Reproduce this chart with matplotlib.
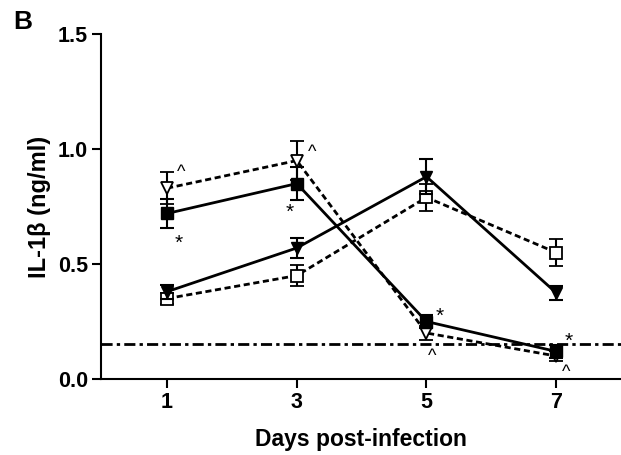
import matplotlib
matplotlib.use('Agg')
import matplotlib.pyplot as plt

plt.rcParams['font.family'] = ['Liberation Sans', 'DejaVu Sans']

days = [1, 3, 5, 7]

# filled square, solid
sq_fill = [0.72, 0.85, 0.25, 0.12]
sq_fill_err = [0.065, 0.07, 0.03, 0.03]
# open inverted triangle, dashed
tri_open = [0.83, 0.95, 0.20, 0.10]
tri_open_err = [0.07, 0.085, 0.03, 0.02]
# filled inverted triangle, solid
tri_fill = [0.38, 0.57, 0.88, 0.375]
tri_fill_err = [0.03, 0.045, 0.075, 0.03]
# open square, dashed
sq_open = [0.35, 0.45, 0.79, 0.55]
sq_open_err = [0.025, 0.045, 0.06, 0.06]

detection_limit = 0.152

caret_x = [1.22, 3.24, 5.09, 7.15]
caret_y = [0.917, 1.0, 0.117, 0.047]
star_x = [1.18, 2.89, 5.2, 7.19]
star_y = [0.61, 0.743, 0.29, 0.185]

fig = plt.figure(figsize=(6.21, 4.55), dpi=100)
ax = fig.add_axes([0.1626, 0.167, 0.8374, 0.758])

common = dict(color='black', lw=2, capsize=5, capthick=1.5, elinewidth=1.5, markersize=8)
dash = (0, (2.2, 1.3))
ax.errorbar(days, sq_open, yerr=sq_open_err, ls=dash, marker='s',
            mfc='white', mec='black', mew=1.3, zorder=3, **common)
ax.errorbar(days, tri_fill, yerr=tri_fill_err, ls='-', marker='v',
            mfc='black', mec='black', zorder=4, **common)
ax.errorbar(days, tri_open, yerr=tri_open_err, ls=dash, marker='v',
            mfc='white', mec='black', mew=1.3, zorder=3, **common)
ax.errorbar(days, sq_fill, yerr=sq_fill_err, ls='-', marker='s',
            mfc='black', mec='black', zorder=4, **common)

ax.axhline(detection_limit, color='black', lw=2, ls=(0, (4, 1.5, 1.2, 1.5)), zorder=2)

# significance marks: glyph sits near the top of the text box
for x, y in zip(caret_x, caret_y):
    ax.text(x, y + 0.02, '^', fontsize=13, ha='center', va='top')
for x, y in zip(star_x, star_y):
    ax.text(x, y + 0.022, '*', fontsize=15, ha='center', va='top')

ax.set_xlim(-0.02, 8.0)
ax.set_ylim(0, 1.5)
ax.set_xticks(days)
ax.set_yticks([0.0, 0.5, 1.0, 1.5])
ax.set_yticklabels(['0.0', '0.5', '1.0', '1.5'])
ax.spines['top'].set_visible(False)
ax.spines['right'].set_visible(False)
ax.spines['left'].set_linewidth(1.5)
ax.spines['bottom'].set_linewidth(1.5)
ax.tick_params(direction='out', length=6.5, width=1.5, labelsize=15.5, pad=3)
for lab in ax.get_xticklabels() + ax.get_yticklabels():
    lab.set_fontweight('bold')

ax.set_xlabel('Days post-infection', fontsize=16.5, fontweight='bold', labelpad=11)
ax.set_ylabel('IL-1β (ng/ml)', fontsize=17, fontweight='bold', labelpad=5)

fig.text(0.021, 0.978, 'B', fontsize=19, fontweight='bold', va='top', ha='left')

fig.savefig('out.png', dpi=100)
